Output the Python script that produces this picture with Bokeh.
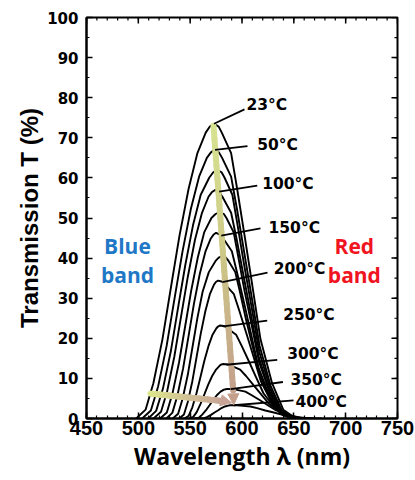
import numpy as np
from bokeh.plotting import figure
from bokeh.models import Range1d, Arrow, NormalHead, FixedTicker, Label, Title
from bokeh.embed import file_html
from bokeh.resources import INLINE

# Transmission spectra (wavelength in nm, transmission in %) per temperature
wl_23 = [498, 507, 514.5, 523.3, 531.7, 539.7, 548.5, 557, 565, 569, 573, 577.5, 580.5, 589.5, 595.3, 602.5, 610, 617.8, 629, 639.8, 652]
t_23 = [0, 2.2, 8.8, 19.8, 33.1, 45.6, 57.3, 66.2, 71.3, 72.8, 73.5, 72.8, 71.3, 66.2, 57.3, 45.6, 33.1, 19.8, 8.8, 2.2, 0]

wl_50 = [503.7, 512.1, 519.1, 527.3, 535.1, 542.5, 550.7, 558.6, 566.1, 569.8, 573.5, 577.9, 580.8, 589.5, 595.1, 602.1, 609.4, 617.0, 627.8, 638.3, 650.1]
t_50 = [0, 2.0, 8.0, 18.1, 30.2, 41.5, 52.3, 60.3, 65.0, 66.3, 67.0, 66.3, 65.0, 60.3, 52.3, 41.5, 30.2, 18.1, 8.0, 2.0, 0]

wl_75 = [509.5, 517.2, 523.7, 531.3, 538.5, 545.4, 552.9, 560.2, 568.5, 572.3, 576, 580.3, 583.1, 590.7, 595.6, 602.0, 609.2, 616.6, 627.2, 637.5, 649.1]
t_75 = [0, 1.9, 7.4, 16.7, 27.9, 38.4, 48.4, 55.8, 60.1, 61.4, 62.0, 61.4, 60.1, 55.8, 48.4, 38.4, 27.9, 16.7, 7.4, 1.9, 0]

wl_100 = [514.7, 521.9, 527.8, 534.7, 541.4, 547.7, 554.6, 561.4, 567.7, 570.8, 574, 578.2, 581.1, 589.5, 595.0, 601.7, 608.8, 616.1, 626.6, 636.8, 648.3]
t_100 = [0, 1.7, 6.8, 15.4, 25.7, 35.3, 44.5, 51.3, 55.3, 56.4, 57.0, 56.4, 55.3, 51.3, 44.5, 35.3, 25.7, 15.4, 6.8, 1.7, 0]

wl_125 = [521.0, 527.5, 532.9, 539.2, 545.3, 551.0, 557.4, 563.5, 570.5, 574.5, 578.5, 582.5, 585.0, 592.0, 596.5, 602.4, 609.4, 616.7, 627.1, 637.1, 648.5]
t_125 = [0, 1.5, 6.2, 13.9, 23.2, 31.9, 40.2, 46.4, 50.0, 51.0, 51.5, 51.0, 50.0, 46.4, 40.2, 31.9, 23.2, 13.9, 6.2, 1.5, 0]

wl_150 = [527.0, 532.8, 537.6, 543.2, 548.6, 553.7, 559.3, 564.8, 569.9, 572.4, 575, 579.1, 581.9, 590.2, 595.5, 602.1, 609.0, 616.2, 626.5, 636.5, 647.7]
t_150 = [0, 1.4, 5.6, 12.5, 20.8, 28.7, 36.1, 41.7, 44.9, 45.8, 46.3, 45.8, 44.9, 41.7, 36.1, 28.7, 20.8, 12.5, 5.6, 1.4, 0]

wl_175 = [533.2, 538.4, 542.7, 547.7, 552.5, 557.0, 562.0, 568.0, 574.5, 577.5, 581, 584.5, 587.0, 593.5, 598.0, 603.5, 610.0, 617.2, 627.5, 637.5, 648.7]
t_175 = [0, 1.2, 4.9, 10.9, 18.2, 25.1, 31.6, 36.5, 39.3, 40.1, 40.5, 40.1, 39.3, 36.5, 31.6, 25.1, 18.2, 10.9, 4.9, 1.2, 0]

wl_200 = [539.5, 544.0, 547.7, 552.1, 556.3, 560.3, 564.7, 569.0, 573.0, 575.0, 577, 581.1, 583.9, 592.2, 597.5, 604.1, 611.0, 618.2, 628.5, 638.5, 649.7]
t_200 = [0, 1.0, 4.1, 9.3, 15.5, 21.3, 26.8, 31.0, 33.4, 34.1, 34.4, 34.1, 33.4, 31.0, 26.8, 21.3, 15.5, 9.3, 4.1, 1.0, 0]

wl_250 = [544.5, 548.6, 552.1, 556.1, 560.0, 563.7, 567.7, 571.6, 575.3, 577.2, 579, 583.2, 586.0, 594.3, 599.7, 606.4, 613.4, 620.7, 631.1, 641.1, 652.5]
t_250 = [0, 0.7, 2.8, 6.3, 10.4, 14.4, 18.1, 20.9, 22.5, 23.0, 23.2, 23.0, 22.5, 20.9, 18.1, 14.4, 10.4, 6.3, 2.8, 0.7, 0]

wl_300 = [549.0, 553.0, 556.3, 560.1, 563.8, 567.3, 571.2, 575.0, 578.5, 580.2, 582, 586.4, 589.4, 598.2, 603.9, 610.9, 618.3, 625.9, 636.9, 647.5, 659.4]
t_300 = [0, 0.4, 1.6, 3.7, 6.1, 8.4, 10.6, 12.2, 13.2, 13.5, 13.6, 13.5, 13.2, 12.2, 10.6, 8.4, 6.1, 3.7, 1.6, 0.4, 0]

wl_350 = [554.5, 558.3, 561.4, 565.1, 568.7, 572.0, 575.7, 579.3, 582.6, 584.3, 586, 590.7, 593.9, 603.3, 609.4, 617.0, 624.9, 633.0, 644.8, 656.1, 669]
t_350 = [0, 0.2, 0.9, 2.0, 3.3, 4.6, 5.8, 6.7, 7.2, 7.3, 7.4, 7.3, 7.2, 6.7, 5.8, 4.6, 3.3, 2.0, 0.9, 0.2, 0]

wl_400 = [560, 563.6, 566.6, 570.1, 573.5, 576.7, 580.2, 583.6, 586.8, 588.4, 590, 595, 598.3, 608.2, 614.5, 622.5, 630.7, 639.3, 651.6, 663.5, 676.9]
t_400 = [0, 0.1, 0.4, 0.9, 1.5, 2.0, 2.6, 3.0, 3.2, 3.3, 3.3, 3.3, 3.2, 3.0, 2.6, 2.0, 1.5, 0.9, 0.4, 0.1, 0]

# Temperature labels: text, leader line (start on the curve, end at the text) and text anchor
temp_labels = ["23°C", "50°C", "100°C", "150°C", "200°C", "250°C", "300°C", "350°C", "400°C"]
leader_x0 = [573, 574, 578, 580, 581, 582, 585, 589, 592]
leader_y0 = [73.5, 67.0, 56.6, 45.6, 34.0, 23.0, 13.4, 7.3, 3.3]
leader_x1 = [602.4, 605.3, 614.7, 617.8, 624.6, 624.3, 634.0, 639.5, 649.7]
leader_y1 = [77.1, 67.9, 58.1, 47.4, 36.4, 24.4, 14.6, 9.1, 4.5]
label_x = [604.3, 614.7, 619.5, 625.6, 630.7, 639.7, 643.6, 646.8, 651.6]
label_y = [78.3, 68.1, 58.4, 47.5, 37.2, 25.9, 16.2, 9.7, 4.0]

# Trend arrows: peak decay (down) and blue-edge shift (right)
peak_arrow = [572.5, 73.0, 591.5, 7.0]      # x0, y0, x1, y1 of the bar
peak_arrow_tip = [592.0, 3.4]
edge_arrow = [511.7, 6.2, 583.5, 4.3]
edge_arrow_tip = [590.0, 3.9]

x_ticks = [450, 500, 550, 600, 650, 700, 750]
x_minor = list(range(450, 751, 10))
y_ticks = [0, 10, 20, 30, 40, 50, 60, 70, 80, 90, 100]
y_minor = list(range(0, 101, 5))

spectra = [(wl_23, t_23), (wl_50, t_50), (wl_75, t_75), (wl_100, t_100),
           (wl_125, t_125), (wl_150, t_150), (wl_175, t_175), (wl_200, t_200),
           (wl_250, t_250), (wl_300, t_300), (wl_350, t_350), (wl_400, t_400)]

X0, X1, Y0, Y1 = 450, 750, 0, 100
p = figure(width=415, height=480, x_range=Range1d(X0, X1), y_range=Range1d(Y0, Y1),
           output_backend="svg", toolbar_location=None,
           min_border_left=86, min_border_right=18, min_border_top=17, min_border_bottom=62)
p.grid.visible = False
p.outline_line_color = "black"
p.outline_line_width = 2
p.background_fill_color = "white"
p.border_fill_color = "white"


def style_axis(ax, ticker):
    ax.ticker = ticker
    ax.axis_line_width = 2
    ax.axis_line_color = "black"
    ax.major_tick_in = 6
    ax.major_tick_out = 0
    ax.minor_tick_in = 3
    ax.minor_tick_out = 0
    ax.major_tick_line_width = 1.5
    ax.minor_tick_line_width = 1.2
    ax.major_tick_line_color = "black"
    ax.minor_tick_line_color = "black"


xa = p.xaxis[0]
style_axis(xa, FixedTicker(ticks=x_ticks, minor_ticks=x_minor))
xa.major_label_text_font = "Liberation Sans"
xa.major_label_text_font_style = "bold"
xa.major_label_text_font_size = "20px"
xa.major_label_text_color = "black"
xa.major_label_standoff = 2

ya = p.yaxis[0]
style_axis(ya, FixedTicker(ticks=y_ticks, minor_ticks=y_minor))
ya.major_label_text_font = "DejaVu Sans"
ya.major_label_text_font_style = "bold"
ya.major_label_text_font_size = "15px"
ya.major_label_text_color = "black"
ya.major_label_standoff = 8

# axis titles as side titles, nudged off the frame centre
p.add_layout(Title(text="Transmission T (%)", align="center", offset=11, standoff=3,
                   text_font="Liberation Sans", text_font_style="bold",
                   text_font_size="24px", text_color="black"), "left")
p.add_layout(Title(text="Wavelength λ (nm)", align="center", offset=9, standoff=0,
                   text_font="Open Sans", text_font_style="bold",
                   text_font_size="23px", text_color="black"), "below")

# mirrored inward ticks on the top and right frame edges (6 px major, 3 px minor)
px_per_nm = 311 / (X1 - X0)
px_per_pct = 401 / (Y1 - Y0)
for ticks, ln in ((x_ticks, 6), (x_minor, 3)):
    p.segment(ticks, [Y1] * len(ticks), ticks, [Y1 - ln / px_per_pct] * len(ticks),
              line_color="black", line_width=1.5 if ln == 6 else 1.2)
for ticks, ln in ((y_ticks, 6), (y_minor, 3)):
    p.segment([X1] * len(ticks), ticks, [X1 - ln / px_per_nm] * len(ticks), ticks,
              line_color="black", line_width=1.5 if ln == 6 else 1.2)

# spectra
for wl, tr in spectra:
    p.line(wl, tr, line_color="black", line_width=1.9)


def mix(stops, s):
    # piecewise colour blend along the bar (s in 0..1)
    n = len(stops) - 1
    i = min(int(s * n), n - 1)
    f = s * n - i
    a, b = stops[i], stops[i + 1]
    c = [int(round(a[k] + (b[k] - a[k]) * f)) for k in range(3)]
    return "#%02x%02x%02x" % tuple(c)


def gradient_bar(coords, tip, stops, width=6, n=40):
    x0, y0, x1, y1 = coords
    s = np.linspace(0, 1, n + 1)
    xs = x0 + (x1 - x0) * s
    ys = y0 + (y1 - y0) * s
    cols = [mix(stops, (s[i] + s[i + 1]) / 2) for i in range(n)]
    p.segment(xs[:-1], ys[:-1], xs[1:], ys[1:], line_color=cols, line_width=width, line_cap="round")
    end_col = mix(stops, 1.0)
    p.add_layout(Arrow(end=NormalHead(size=11, fill_color=end_col, line_color=end_col),
                       x_start=x1, y_start=y1, x_end=tip[0], y_end=tip[1],
                       line_color=end_col, line_width=1, line_alpha=0))


gradient_bar(peak_arrow, peak_arrow_tip, [(215, 228, 145), (205, 200, 135), (196, 160, 140)])
gradient_bar(edge_arrow, edge_arrow_tip, [(222, 232, 140), (210, 195, 150), (200, 165, 150)])

# leaders and temperature labels
p.segment(leader_x0, leader_y0, leader_x1, leader_y1, line_color="black", line_width=1.8)
for txt, lx, ly in zip(temp_labels, label_x, label_y):
    p.add_layout(Label(x=lx, y=ly, text=txt, text_font="DejaVu Sans", text_font_style="bold",
                       text_font_size="15.5px", text_color="black",
                       text_align="left", text_baseline="middle"))

# band annotations
for txt, ly in (("Blue", 42.9), ("band", 35.7)):
    p.add_layout(Label(x=489.5, y=ly, text=txt, text_font="Open Sans", text_font_style="bold",
                       text_font_size="21px", text_color="#1f78c6",
                       text_align="center", text_baseline="alphabetic"))
for txt, ly in (("Red", 42.9), ("band", 35.7)):
    p.add_layout(Label(x=708.4, y=ly, text=txt, text_font="Open Sans", text_font_style="bold",
                       text_font_size="21px", text_color="#f0141e",
                       text_align="center", text_baseline="alphabetic"))

open("out.html", "w").write(file_html(p, INLINE))
